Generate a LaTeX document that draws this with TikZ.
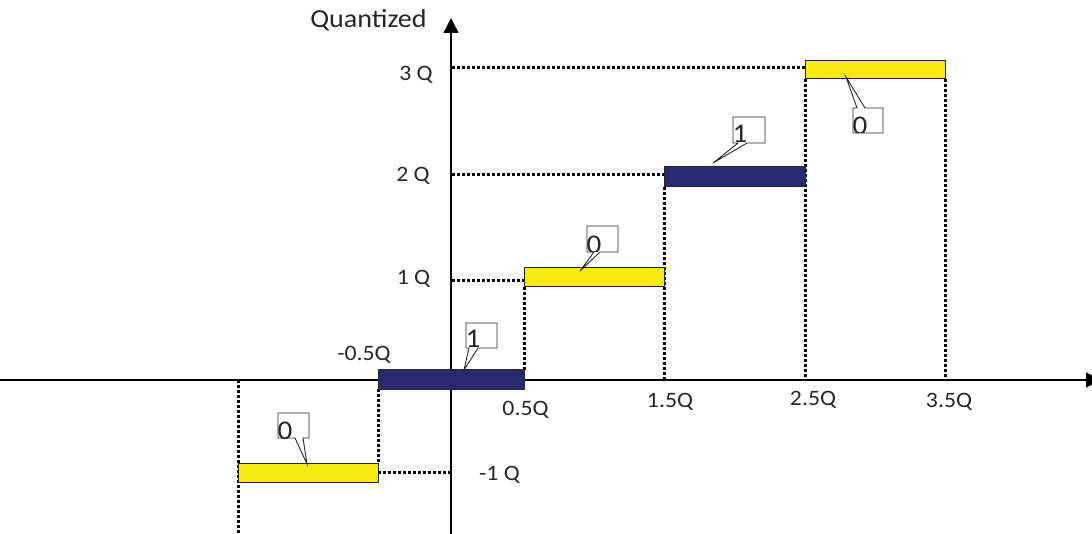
\documentclass[tikz,border=0pt]{standalone}
\usepackage{fontspec}
\setmainfont{Carlito}
\usetikzlibrary{arrows.meta}
\definecolor{barblue}{RGB}{40,42,112}
\definecolor{baryellow}{RGB}{245,235,18}
\definecolor{edge}{RGB}{40,40,40}
\tikzset{
  axis/.style={line width=1.4pt, -{Triangle[length=15pt,width=15pt]}},
  dots/.style={line width=3pt, dash pattern=on 2.6pt off 2.4pt},
  barbox/.style={draw=edge, line width=1pt},
  lbl/.style={anchor=base, inner sep=0pt, text=black!85, font=\fontsize{22}{22}\selectfont},
  callout/.style={draw=edge, fill=white, line width=0.9pt},
  digit/.style={anchor=base west, inner sep=0pt, text=black!85, font=\fontsize{27}{27}\selectfont}
}
\newcommand{\hs}[1]{\scalebox{1.08}[1]{#1}}
\begin{document}
\begin{tikzpicture}[x=1pt,y=-1pt]
\useasboundingbox (0,0) rectangle (1092,534);

% dotted guide lines
\draw[dots] (452,68) -- (805,68);
\draw[dots] (452,175) -- (664,175);
\draw[dots] (452,281) -- (524,281);
\draw[dots] (378,472) -- (452,472);
\draw[dots] (238,380) -- (238,534);
\draw[dots] (378,389) -- (378,463);
\draw[dots] (524,287) -- (524,370);
\draw[dots] (664,187) -- (664,380);
\draw[dots] (805,79) -- (805,380);
\draw[dots] (945,79) -- (945,380);

% axes
\coordinate (xs) at (0,380);
\coordinate (xe) at (1101,380);
\coordinate (ys) at (451,534);
\coordinate (ye) at (451,18);
\draw[axis] (xs) -- (xe);
\draw[axis] (ys) -- (ye);

% bars
\draw[barbox, fill=baryellow] (238,463) rectangle (378,482);
\draw[barbox, fill=barblue] (378,370) rectangle (524,389);
\draw[barbox, fill=baryellow] (524,268) rectangle (664,287);
\draw[barbox, fill=barblue] (664,167) rectangle (805,187);
\draw[barbox, fill=baryellow] (805,61) rectangle (945,79);

% callouts
\draw[callout] (278,413) -- (309,413) -- (309,438) -- (303,438) -- (307,464) -- (295,438) -- (278,438) -- cycle;
\begin{scope}\clip (278,413) rectangle (309,438);
\node[digit] (c1) at (277.5,439.5) {\hs{0}};\end{scope}

\draw[callout] (466,323) -- (497,323) -- (497,348) -- (478,348) -- (464,370) -- (469,348) -- (466,348) -- cycle;
\begin{scope}\clip (466,323) rectangle (497,348);
\node[digit] (c2) at (465.5,348) {\hs{1}};\end{scope}

\draw[callout] (587,226) -- (618,226) -- (618,252) -- (600,252) -- (580,271) -- (594,252) -- (587,252) -- cycle;
\begin{scope}\clip (587,226) rectangle (618,252);
\node[digit] (c3) at (586.5,253.5) {\hs{0}};\end{scope}

\draw[callout] (733,117) -- (765,117) -- (765,143) -- (747,143) -- (713,163) -- (738,143) -- (733,143) -- cycle;
\begin{scope}\clip (733,117) rectangle (765,143);
\node[digit] (c4) at (732.5,143) {\hs{1}};\end{scope}

\draw[callout] (853,108) -- (857,108) -- (846,77) -- (865,108) -- (883,108) -- (883,133) -- (853,133) -- cycle;
\begin{scope}\clip (853,108) rectangle (883,133);
\node[digit] (c5) at (852.5,134.5) {\hs{0}};\end{scope}

% labels
\node[lbl, font=\fontsize{26}{26}\selectfont] (q) at (368.5,28) {\hs{Quantized}};
\node[lbl] (l3) at (416,81) {\hs{3 Q}};
\node[lbl] (l2) at (413,182) {\hs{2 Q}};
\node[lbl] (l1) at (413.5,285) {\hs{1 Q}};
\node[lbl] (lm05) at (364,360) {\hs{-0.5Q}};
\node[lbl] (l05) at (525.5,415) {\hs{0.5Q}};
\node[lbl] (l15) at (670,407) {\hs{1.5Q}};
\node[lbl] (l25) at (813,406) {\hs{2.5Q}};
\node[lbl] (l35) at (949,407) {\hs{3.5Q}};
\node[lbl] (lm1) at (499.5,480) {\hs{-1 Q}};
\end{tikzpicture}
\end{document}
